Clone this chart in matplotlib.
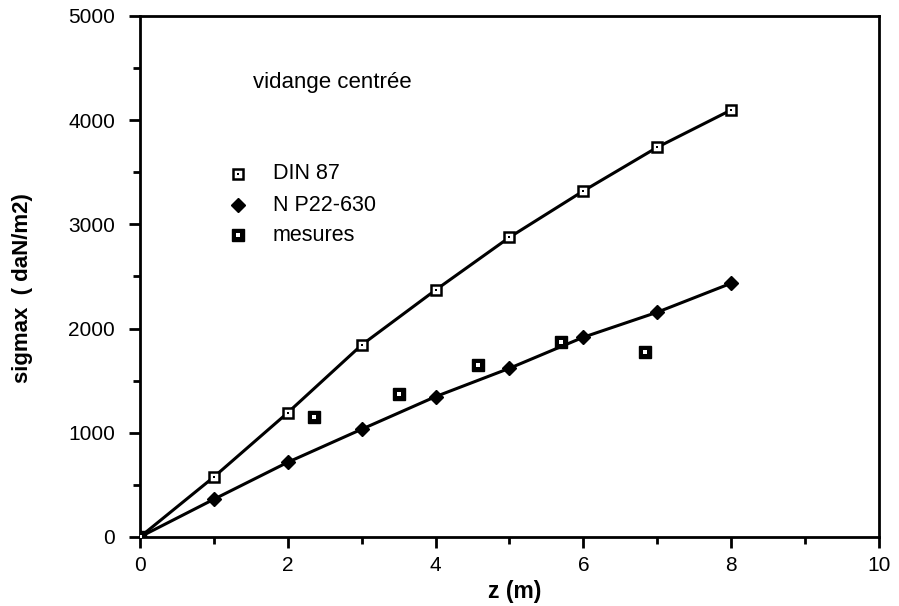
import numpy as np
import matplotlib.pyplot as plt
from matplotlib.ticker import MultipleLocator

plt.rcParams['font.family'] = ['Liberation Sans', 'DejaVu Sans']

# DIN 87 and N P22-630 computed values, z = 0..8 m
z_calc = [0, 1, 2, 3, 4, 5, 6, 7, 8]
din87 = [0, 576, 1193, 1843, 2370, 2876, 3321, 3740, 4098]
np22 = [0, 362, 717, 1034, 1347, 1619, 1917, 2157, 2435]

# measured values
z_mes = [0, 2.36, 3.50, 4.57, 5.70, 6.84]
mesures = [0, 1149, 1369, 1651, 1868, 1779]

fig = plt.figure(figsize=(8.99, 6.06), dpi=100)
ax = fig.add_axes([0.1557, 0.1139, 0.822, 0.8597])

ax.plot(z_calc, din87, color='black', lw=2.2, zorder=2)
ax.plot(z_calc, np22, color='black', lw=2.2, zorder=2)


def din_marker(x, y):
    # open square with a dot in the middle
    ax.plot(x, y, ls='none', marker='s', ms=7.5, mfc='white', mec='black', mew=1.8, zorder=3)
    ax.plot(x, y, ls='none', marker='s', ms=2, mfc='black', mec='black', mew=0, zorder=4)


def mes_marker(x, y):
    # filled square with a white dot
    ax.plot(x, y, ls='none', marker='s', ms=8.5, mfc='black', mec='black', zorder=3)
    ax.plot(x, y, ls='none', marker='s', ms=2.5, mfc='white', mec='white', mew=0, zorder=4)


def np_marker(x, y):
    ax.plot(x, y, ls='none', marker='D', ms=7.5, mfc='black', mec='black', zorder=3)


din_marker(z_calc, din87)
np_marker(z_calc, np22)
mes_marker(z_mes, mesures)

# legend drawn by hand in data coords
leg_x, txt_x = 1.32, 1.80
leg_y = [3484, 3186, 2898]
leg_lbl = ['DIN 87', 'N P22-630', 'mesures']
din_marker(leg_x, leg_y[0])
np_marker(leg_x, leg_y[1])
mes_marker(leg_x, leg_y[2])
for y, lbl in zip(leg_y, leg_lbl):
    ax.text(txt_x, y, lbl, fontsize=15.5, va='center', ha='left')

ax.text(1.53, 4357, 'vidange centrée', fontsize=16, va='center', ha='left')

ax.set_xlim(0, 10)
ax.set_ylim(0, 5000)
ax.xaxis.set_major_locator(MultipleLocator(2))
ax.xaxis.set_minor_locator(MultipleLocator(1))
ax.yaxis.set_major_locator(MultipleLocator(1000))
ax.yaxis.set_minor_locator(MultipleLocator(500))
ax.tick_params(which='major', direction='out', length=8, width=2, labelsize=15)
ax.tick_params(which='minor', direction='out', length=5, width=2)
ax.tick_params(axis='x', which='major', pad=6)
ax.tick_params(axis='y', which='major', pad=10)
for sp in ax.spines.values():
    sp.set_linewidth(2)

ax.set_xlabel('z (m)', fontsize=16.5, fontweight='bold')
ax.set_ylabel('sigmax  ( daN/m2)', fontsize=16, fontweight='bold')
ax.xaxis.set_label_coords(0.507, -0.082)
ax.yaxis.set_label_coords(-0.145, 0.478)

fig.savefig('out.png', dpi=100)
